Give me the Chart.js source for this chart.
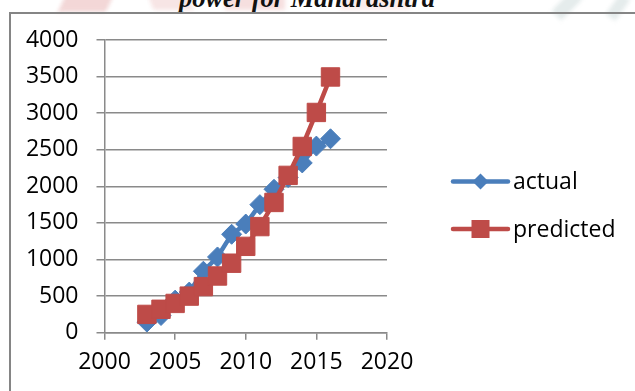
<!DOCTYPE html>
<html>
<head>
<meta charset="utf-8">
<script src="https://cdn.jsdelivr.net/npm/chart.js@4.4.1/dist/chart.umd.min.js"></script>
<style>
  html, body { margin: 0; padding: 0; background: #fff; overflow: hidden; }
  #page { position: relative; width: 635px; height: 391px; overflow: hidden; }
  .wm { position: absolute; filter: blur(2px); }
  #title {
    position: absolute; left: 0; width: 614px; top: -15px;
    text-align: center; white-space: nowrap;
    font: italic bold 26.5px "Liberation Serif", "Times New Roman", serif;
    line-height: 26px; color: #111;
  }
  #frame {
    position: absolute; left: 9px; top: 12px; width: 660px; height: 420px;
    border: 2px solid #858585; box-sizing: border-box;
  }
  #chart { position: absolute; left: 0; top: 0; }
</style>
</head>
<body>
<div id="page">
  <!-- faint page decoration behind the heading -->
  <div class="wm" style="left:62px; top:-6px; width:48px; height:18px; background:rgba(222,140,140,0.35); transform:skewX(-25deg);"></div>
  <div class="wm" style="left:150px; top:-8px; width:40px; height:18px; background:rgba(230,170,170,0.30); transform:skewX(20deg);"></div>
  <div class="wm" style="left:225px; top:-6px; width:60px; height:16px; background:rgba(225,150,150,0.30);"></div>
  <div class="wm" style="left:340px; top:-6px; width:70px; height:16px; background:rgba(235,180,180,0.25);"></div>
  <div class="wm" style="left:560px; top:-10px; width:14px; height:30px; background:rgba(180,200,200,0.35); transform:rotate(45deg);"></div>
  <div class="wm" style="left:612px; top:-6px; width:12px; height:26px; background:rgba(180,200,200,0.35); transform:rotate(35deg);"></div>
  <div id="title">power for Maharashtra</div>
  <div id="frame"></div>
  <canvas id="chart" width="635" height="391"></canvas>
</div>
<script>
// Annual figures, 2003-2016
const years = [2003, 2004, 2005, 2006, 2007, 2008, 2009, 2010, 2011, 2012, 2013, 2014, 2015, 2016];
const actual = [145, 235, 445, 555, 840, 1035, 1345, 1485, 1750, 1960, 2120, 2320, 2550, 2650];
const predicted = [250, 320, 400, 500, 630, 775, 950, 1180, 1450, 1780, 2150, 2545, 3010, 3495];

const seriesNames = ['actual', 'predicted'];
const xTicks = [2000, 2005, 2010, 2015, 2020];
const yTicks = [0, 500, 1000, 1500, 2000, 2500, 3000, 3500, 4000];

const BLUE = '#4a7ebb';
const RED = '#be4b48';
const FONT = '"Open Sans", "Liberation Sans", sans-serif';
const AXIS_GREY = '#8a8a8a';

const toPoints = vals => years.map((y, i) => ({ x: y, y: vals[i] }));

// Legend at the right: a short line with the series marker, then the name
const sideLegend = {
  id: 'sideLegend',
  afterDraw(chart) {
    const ctx = chart.ctx;
    const rows = [181.5, 229];
    const x0 = 453, x1 = 508;
    chart.data.datasets.forEach((ds, i) => {
      const y = rows[i];
      ctx.save();
      ctx.strokeStyle = ds.borderColor;
      ctx.lineWidth = ds.borderWidth;
      ctx.lineCap = 'round';
      ctx.beginPath();
      ctx.moveTo(x0, y);
      ctx.lineTo(x1, y);
      ctx.stroke();
      const cx = (x0 + x1) / 2;
      ctx.fillStyle = ds.pointBackgroundColor;
      ctx.beginPath();
      if (ds.pointStyle === 'rect') {
        ctx.rect(cx - 9, y - 9, 18, 18);
      } else {
        ctx.moveTo(cx - 8, y);
        ctx.lineTo(cx, y - 8);
        ctx.lineTo(cx + 8, y);
        ctx.lineTo(cx, y + 8);
        ctx.closePath();
      }
      ctx.fill();
      ctx.fillStyle = '#000';
      ctx.font = '23px ' + FONT;
      ctx.textAlign = 'left';
      ctx.textBaseline = 'middle';
      ctx.fillText(ds.label, 513, y + 1);
      ctx.restore();
    });
  }
};

new Chart(document.getElementById('chart'), {
  type: 'line',
  data: {
    datasets: [
      {
        label: seriesNames[0],
        data: toPoints(actual),
        borderColor: BLUE,
        backgroundColor: BLUE,
        pointBackgroundColor: BLUE,
        pointBorderColor: BLUE,
        borderWidth: 4.5,
        pointStyle: 'rectRot',
        pointRadius: 10,
        pointBorderWidth: 1,
        tension: 0,
        order: 1
      },
      {
        label: seriesNames[1],
        data: toPoints(predicted),
        borderColor: RED,
        backgroundColor: RED,
        pointBackgroundColor: RED,
        pointBorderColor: RED,
        borderWidth: 4.5,
        pointStyle: 'rect',
        pointRadius: 13,
        pointBorderWidth: 1,
        tension: 0,
        order: 0
      }
    ]
  },
  options: {
    responsive: false,
    animation: false,
    devicePixelRatio: 1,
    layout: { padding: { left: 0, top: 40, right: 248, bottom: 0 } },
    plugins: {
      legend: { display: false },
      tooltip: { enabled: false },
      title: { display: false }
    },
    scales: {
      x: {
        type: 'linear',
        min: xTicks[0],
        max: xTicks[xTicks.length - 1],
        afterBuildTicks(scale) { scale.ticks = xTicks.map(v => ({ value: v })); },
        afterFit(scale) { scale.height = 58.3; },
        grid: {
          drawOnChartArea: false,
          drawTicks: true,
          tickLength: 7,
          color: AXIS_GREY,
          lineWidth: 1.5
        },
        border: { display: true, color: AXIS_GREY, width: 1.5 },
        ticks: {
          color: '#000',
          font: { family: FONT, size: 23 },
          padding: 9,
          maxRotation: 0,
          callback: v => String(v)
        }
      },
      y: {
        type: 'linear',
        min: yTicks[0],
        max: yTicks[yTicks.length - 1],
        afterBuildTicks(scale) { scale.ticks = yTicks.map(v => ({ value: v })); },
        afterFit(scale) { scale.width = 104.5; },
        grid: {
          drawOnChartArea: true,
          drawTicks: true,
          tickLength: 8,
          color: AXIS_GREY,
          lineWidth: 1.5
        },
        border: { display: true, color: AXIS_GREY, width: 1.5 },
        ticks: {
          color: '#000',
          font: { family: FONT, size: 23 },
          padding: 18,
          callback: v => String(v)
        }
      }
    }
  },
  plugins: [sideLegend]
});
</script>
</body>
</html>
